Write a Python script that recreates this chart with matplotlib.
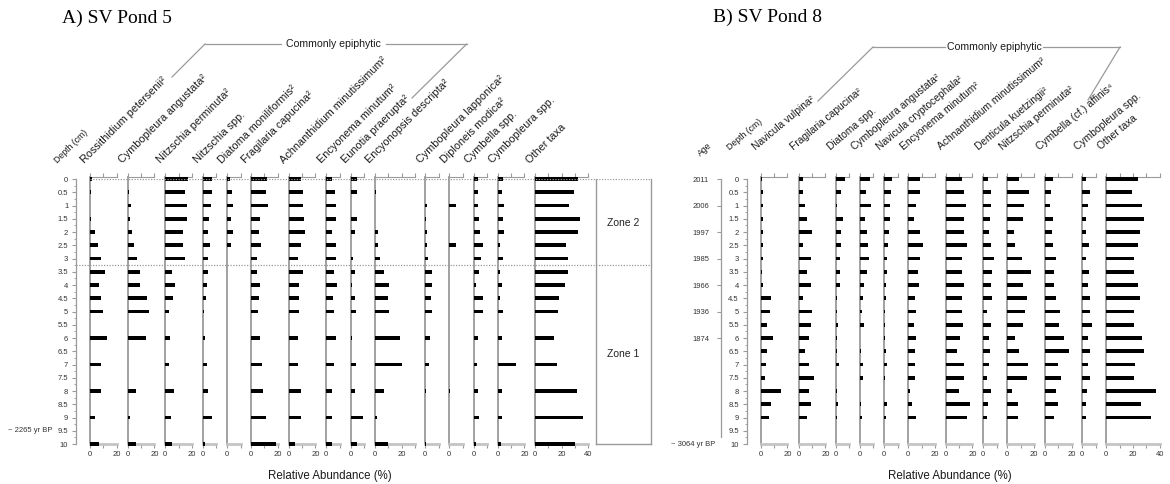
import matplotlib
matplotlib.use('Agg')
import matplotlib.pyplot as plt
import numpy as np

plt.rcParams['font.family'] = ['Liberation Sans', 'DejaVu Sans']

# ---------------- DATA ----------------
# Panel A: SV Pond 5
depth_a = [0, 0.5, 1, 1.5, 2, 2.5, 3, 3.5, 4, 4.5, 5, 6, 7, 8, 9, 10]
taxa_a = ["Rossithidium petersenii²", "Cymbopleura angustata²", "Nitzschia perminuta²",
          "Nitzschia spp.", "Diatoma moniliformis²", "Fragilaria capucina²",
          "Achnanthidium minutissimum²", "Encyonema minutum²", "Eunotia praerupta²",
          "Encyonopsis descripta²", "Cymbopleura lapponica²", "Diploneis modica²",
          "Cymbella spp.", "Cymbopleura spp.", "Other taxa"]
rossithidium_a = [1.5, 1, 0, 0.5, 4, 6, 8, 11, 7, 8.5, 10, 13, 8, 8, 3.5, 6.5]
cymb_angustata_a = [0, 1, 2.5, 2, 3.5, 5, 7, 9.5, 9.5, 14.5, 16, 13.5, 0, 6, 1.5, 6]
nitz_perminuta_a = [17, 15, 16, 16, 13, 13, 15, 5, 7, 6, 3, 3.5, 2.5, 6.5, 4.5, 5]
nitz_spp_a = [7, 7, 6, 4.5, 4, 5.5, 4, 3.5, 3, 2.5, 0.5, 1.5, 3, 4, 6.5, 1.5]
diatoma_monil_a = [2, 3.5, 4, 3, 4.5, 2.5, 0, 0, 0, 0, 0, 0, 0, 0, 0, 0]
fragilaria_a = [12, 11.5, 13, 7, 6, 7.5, 4.5, 4.5, 7, 6, 5, 7, 8.5, 9, 11, 18.5]
achnanthidium_a = [9.5, 11, 11, 11.5, 12, 9, 7, 11, 7.5, 8, 8, 7, 7, 9, 9, 5]
encyonema_a = [4, 6.5, 7, 7, 4, 7, 7, 5.5, 8, 5, 6, 7, 6, 4, 4, 4]
eunotia_a = [4.5, 4.5, 0, 5, 3.5, 0, 1.5, 3, 1, 3, 4, 1, 4, 3, 9, 4.5]
encyonopsis_a = [0, 0.7, 0, 0, 2, 2, 4, 6.5, 10.5, 9.5, 10.5, 18.5, 20, 6.5, 1.5, 10]
cymb_lapponica_a = [0, 0, 1, 0.3, 1, 1, 2, 5, 5, 4, 5, 3.5, 2.5, 0.5, 0, 0.5]
diploneis_a = [0, 0, 5, 0, 0, 5, 0, 0, 0, 0, 0, 0, 0, 0.5, 0, 0]
cymbella_spp_a = [3.5, 3.5, 3.5, 4, 4.5, 7, 5.5, 4, 2, 7, 7, 3.5, 2.5, 3, 4, 1.5]
cymb_spp_a = [4, 3, 4.5, 4, 4.5, 2, 4, 2, 3, 1.5, 4, 3, 14, 3.5, 3.5, 2.5]
other_a = [32, 29.5, 25.5, 34, 32, 23.5, 25, 25, 22.5, 18, 17.5, 14, 16.5, 31.5, 36, 30]
values_a = [rossithidium_a, cymb_angustata_a, nitz_perminuta_a, nitz_spp_a, diatoma_monil_a,
            fragilaria_a, achnanthidium_a, encyonema_a, eunotia_a, encyonopsis_a,
            cymb_lapponica_a, diploneis_a, cymbella_spp_a, cymb_spp_a, other_a]
axis_max_a = [20, 20, 20, 10, 10, 20, 20, 10, 10, 30, 10, 10, 10, 20, 40]
zone_boundary_a = 3.25
zones_a = [("Zone 2", 1.65), ("Zone 1", 6.6)]
base_age_a = "~ 2265 yr BP"
base_age_depth_a = 9.5

# Panel B: SV Pond 8
depth_b = [0, 0.5, 1, 1.5, 2, 2.5, 3, 3.5, 4, 4.5, 5, 5.5, 6, 6.5, 7, 7.5, 8, 8.5, 9]
taxa_b = ["Navicula vulpina²", "Fragilaria capucina²", "Diatoma spp.",
          "Cymbopleura angustata²", "Navicula cryptocephala²", "Encyonema minutum²",
          "Achnanthidium minutissimum²", "Denticula kuetzingii²", "Nitzschia perminuta²",
          "Cymbella (cf.) affinis⁴", "Cymbopleura spp.", "Other taxa"]
navicula_vulpina_b = [0.7, 1.5, 1.5, 2, 2, 1.5, 1.5, 1, 1.5, 7.5, 7, 5, 9, 4.5, 4, 3.5, 15, 8, 6.5]
fragilaria_b = [3, 3, 5, 6.5, 10, 3, 9, 6, 9, 3, 10, 9, 8, 5, 8, 11.5, 7.5, 9, 6.5]
diatoma_spp_b = [7, 4, 0.5, 5.5, 4, 4, 3, 3, 3, 1, 0.5, 1.5, 0.5, 1, 2, 0, 1, 1.5, 0.5]
cymb_angustata_b = [7.5, 4.5, 8, 3.5, 5, 6, 6.5, 5.5, 3, 2, 1.5, 3, 0, 1, 2.5, 2.5, 0, 0.5, 1.5]
navicula_crypto_b = [5.5, 5, 4, 4.5, 3.5, 3, 2, 2, 1, 1, 0.7, 0.7, 0.7, 1.2, 2, 0.5, 0, 2, 1.2]
encyonema_b = [9, 9, 6, 4.5, 9, 11, 9, 7.5, 8, 5, 6, 4, 6, 5, 5, 5, 1, 2.5, 6]
achnanthidium_b = [12.5, 14, 15.5, 14, 14, 16, 12, 12, 14, 12.5, 12.5, 13, 11, 8.5, 14, 14, 10, 18, 16]
denticula_b = [3.5, 5.5, 5.5, 5, 4, 5.5, 8, 6.5, 6, 6.5, 3, 6, 4, 5, 4, 2.5, 5.5, 3.5, 3]
nitz_perminuta_b = [9, 16, 12.5, 11.5, 5, 6, 11, 18, 12, 15, 13, 11.5, 6, 8.5, 15.5, 15, 3.5, 8, 8]
cymbella_affinis_b = [6, 4.5, 3.5, 6, 5.5, 6, 8, 6.5, 7, 8, 11, 10.5, 14.5, 18, 10, 12, 8, 10, 6.5]
cymb_spp_b = [3, 5.5, 4, 3, 3, 5, 3, 5, 4.5, 6, 5.5, 7, 4.5, 5.5, 4, 6, 3.5, 3, 2.5]
other_b = [24, 19, 27, 28, 25, 24, 21, 20.5, 23.5, 25, 21, 21, 27, 28, 21.5, 21, 37.5, 26, 33.5]
values_b = [navicula_vulpina_b, fragilaria_b, diatoma_spp_b, cymb_angustata_b, navicula_crypto_b,
            encyonema_b, achnanthidium_b, denticula_b, nitz_perminuta_b, cymbella_affinis_b,
            cymb_spp_b, other_b]
axis_max_b = [20, 20, 10, 10, 10, 20, 20, 10, 20, 20, 10, 40]
age_depths_b = [0, 1, 2, 3, 4, 5, 6]
age_labels_b = ["2011", "2006", "1997", "1985", "1966", "1936", "1874"]
base_age_b = "~ 3064 yr BP"
base_age_depth_b = 10

depth_ticks = np.arange(0, 10.01, 0.5)

# ---------------- LAYOUT ----------------
W, H, DPI = 1170, 484, 100
fig = plt.figure(figsize=(W / DPI, H / DPI), dpi=DPI)

PXD = 26.5        # px per cm of depth
Y0 = 179.0        # pixel row of depth 0
PCT = 4.0 / 3.0   # px per percent
TOP = 0.09        # axis line sits slightly above depth 0
GREY = '#9a9a9a'
LGREY = '#c4c4c4'
TXT = '#333333'

x_a = [90, 127.7, 165.3, 203, 227.3, 251, 288.7, 326.3, 350.7, 375, 425.3, 449.3, 473.7, 497.7, 535]
x_b = [760.7, 798.7, 836, 860, 884.3, 908.3, 945.7, 983.3, 1007.3, 1045, 1082.3, 1106.3]


def fax(x, ytop, w, h):
    return fig.add_axes([x / W, 1 - (ytop + h) / H, w / W, h / H])


def ftext(x, y, s, **kw):
    return fig.text(x / W, 1 - y / H, s, **kw)


def column(x0, depths, vals, xmax, label, rot, laby, fs):
    ax = fax(x0, Y0 - TOP * PXD, xmax * PCT, (10 + TOP) * PXD)
    ax.set_xlim(0, xmax)
    ax.set_ylim(10, -TOP)
    ax.patch.set_visible(False)
    ax.barh(depths, vals, height=0.145, color='black', clip_on=False, zorder=3)
    ax.spines['right'].set_visible(False)
    ax.spines['left'].set_color(GREY)
    ax.spines['left'].set_linewidth(1.3)
    ax.spines['top'].set_color(GREY)
    ax.spines['top'].set_linewidth(0.8)
    ax.spines['bottom'].set_color(LGREY)
    ax.spines['bottom'].set_linewidth(2.0)
    ax.set_yticks([])
    ticks = np.arange(0, xmax + 0.01, 10)
    ax.set_xticks(ticks)
    ax.set_xticklabels([f'{t:g}' if t % 20 == 0 else '' for t in ticks], fontsize=5.5, color=TXT)
    ax.tick_params(axis='x', top=True, bottom=True, labeltop=False, direction='out',
                   length=2.6, width=0.8, color=GREY, pad=2.5)
    ftext(x0 - 5, laby, label, rotation=rot, rotation_mode='anchor', ha='left', va='baseline',
          fontsize=fs, color='#1a1a1a')
    return ax


def depth_axis(x):
    ax = fax(x, Y0 - TOP * PXD, 1, (10 + TOP) * PXD)
    ax.set_ylim(10, -TOP)
    ax.patch.set_visible(False)
    for s in ['top', 'right', 'bottom']:
        ax.spines[s].set_visible(False)
    ax.spines['left'].set_color(GREY)
    ax.spines['left'].set_linewidth(0.9)
    ax.spines['left'].set_bounds(0, 10)
    ax.set_xticks([])
    ax.set_yticks(depth_ticks)
    ax.set_yticklabels([f'{v:g}' for v in depth_ticks], fontsize=5.5, color=TXT)
    ax.set_yticks(np.arange(0.25, 10, 0.5), minor=True)
    ax.tick_params(axis='y', which='major', length=2.6, width=0.8, color=GREY, pad=3)
    ax.tick_params(axis='y', which='minor', length=1.5, width=0.6, color=GREY)
    return ax


# ---------------- PANEL A ----------------
ftext(62, 23, "A) SV Pond 5", fontsize=14, family=['Liberation Serif'], ha='left', va='baseline')
dax = depth_axis(76)
ftext(53, Y0 + base_age_depth_a * PXD, base_age_a, fontsize=5.5, color=TXT, ha='right', va='center')
ftext(58, 164, "Depth (cm)", rotation=45, rotation_mode='anchor', ha='left', va='baseline',
      fontsize=6.3, color='#1a1a1a')
for x0, vals, xm, lab in zip(x_a, values_a, axis_max_a, taxa_a):
    column(x0, depth_a, vals, xm, lab, 45, 164, 7.8)

# zone box
zax = fax(596, Y0, 651 - 596, 10 * PXD)
zax.set_xlim(0, 1)
zax.set_ylim(10, 0)
zax.patch.set_visible(False)
zax.set_xticks([])
zax.set_yticks([])
for s in ['left', 'right', 'bottom']:
    zax.spines[s].set_color(GREY)
    zax.spines[s].set_linewidth(1.0)
zax.spines['top'].set_visible(False)
for name, d in zones_a:
    zax.text(0.5, d, name, ha='center', va='center', fontsize=7.5, color='#222222')

# dotted zone lines
oax = fax(76, Y0, 651 - 76, 10 * PXD)
oax.set_xlim(76, 651)
oax.set_ylim(10, 0)
oax.axis('off')
oax.hlines([0], x_a[0], 651, colors=GREY, linestyles=(0, (1, 1.2)), linewidth=0.9, zorder=1)
oax.hlines([zone_boundary_a], 76, 651, colors=GREY, linestyles=(0, (1, 1.2)), linewidth=0.9, zorder=1)

xl = fax(0, 0, W, H)
xl.set_xlim(0, W)
xl.set_ylim(H, 0)
xl.axis('off')
xl.patch.set_visible(False)

ftext(330, 476, "Relative Abundance (%)", fontsize=8.3, ha='center', va='center', color='#1a1a1a')

# Commonly epiphytic bracket (A)
xl.plot([205, 281], [44, 44], color=GREY, lw=0.9)
xl.plot([386, 466.7], [44, 44], color=GREY, lw=0.9)
xl.plot([205, 172], [44, 77], color=GREY, lw=0.9)
xl.plot([466.7, 412], [44, 98], color=GREY, lw=0.9)
ftext(333.5, 44, "Commonly epiphytic", fontsize=7.6, ha='center', va='center', color='#1a1a1a')

# ---------------- PANEL B ----------------
ftext(713, 22, "B) SV Pond 8", fontsize=14, family=['Liberation Serif'], ha='left', va='baseline')
dbx = depth_axis(746.7)

# age axis
aax = fax(721, Y0 - TOP * PXD, 1, (10 + TOP) * PXD)
aax.set_ylim(10, -TOP)
aax.patch.set_visible(False)
for s in ['top', 'right', 'bottom']:
    aax.spines[s].set_visible(False)
aax.spines['left'].set_color(GREY)
aax.spines['left'].set_linewidth(0.9)
aax.spines['left'].set_bounds(0, 9.75)
aax.set_xticks([])
aax.set_yticks(age_depths_b)
aax.set_yticklabels(age_labels_b, fontsize=5.5, color=TXT)
aax.tick_params(axis='y', length=2.6, width=0.8, color=GREY, pad=6)
ftext(715, Y0 + base_age_depth_b * PXD, base_age_b, fontsize=5.5, color=TXT, ha='right', va='center')

ftext(701, 157, "Age", rotation=42, rotation_mode='anchor', ha='left', va='baseline',
      fontsize=6.3, color='#1a1a1a')
ftext(730, 150, "Depth (cm)", rotation=40, rotation_mode='anchor', ha='left', va='baseline',
      fontsize=6.3, color='#1a1a1a')
for x0, vals, xm, lab in zip(x_b, values_b, axis_max_b, taxa_b):
    column(x0, depth_b, vals, xm, lab, 40, 150, 7.4)

ftext(950, 476, "Relative Abundance (%)", fontsize=8.3, ha='center', va='center', color='#1a1a1a')

# Commonly epiphytic bracket (B)
xl.plot([873, 945], [47, 47], color=GREY, lw=0.9)
xl.plot([1043, 1120], [47, 47], color=GREY, lw=0.9)
xl.plot([873, 818], [47, 101], color=GREY, lw=0.9)
xl.plot([1120, 1088], [47, 100], color=GREY, lw=0.9)
ftext(994, 47, "Commonly epiphytic", fontsize=7.6, ha='center', va='center', color='#1a1a1a')

fig.savefig('out.png', dpi=DPI)
